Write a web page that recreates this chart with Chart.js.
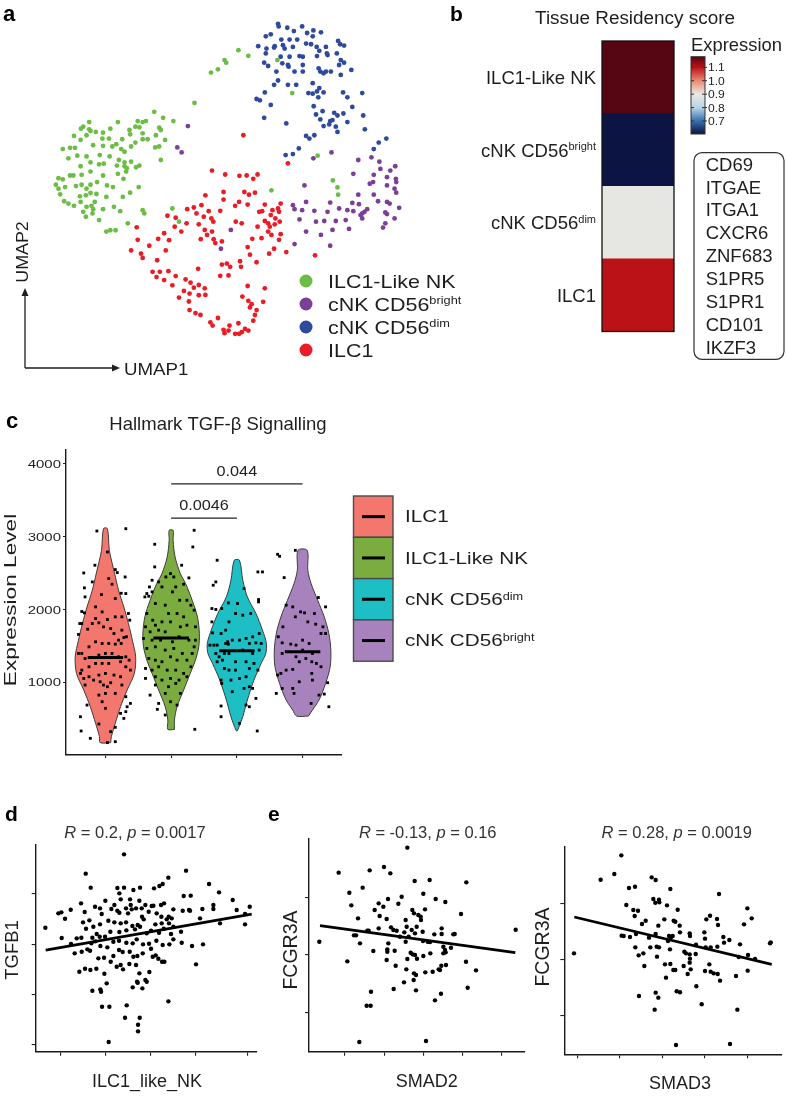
<!DOCTYPE html>
<html>
<head>
<meta charset="utf-8">
<title>ILC1 / NK figure</title>
<script src="https://cdn.jsdelivr.net/npm/chart.js@4.4.1/dist/chart.umd.min.js"></script>
<style>
  html, body { margin: 0; padding: 0; background: #fff; }
  #figure { position: relative; width: 787px; height: 1096px; overflow: hidden; background: #fff; }
  #figure canvas { position: absolute; left: 0; top: 0; }
</style>
</head>
<body>
<div id="figure">
  <canvas id="umap" width="787" height="1096"></canvas>
  <canvas id="heat" width="787" height="1096"></canvas>
  <canvas id="violin" width="787" height="1096"></canvas>
  <canvas id="corrD" width="787" height="1096"></canvas>
  <canvas id="corrE1" width="787" height="1096"></canvas>
  <canvas id="corrE2" width="787" height="1096"></canvas>
</div>
<script>
"use strict"

// Chart.js v4 - one page sized canvas per panel, layout padding places the plot area


// ---------- panel a : UMAP ----------
const umapGroups = ["ILC1-Like NK", "cNK CD56", "cNK CD56", "ILC1"];
const umapSups = ["", "bright", "dim", ""];
const umapColors = ["#6bbd45", "#7c3f98", "#2d4a9d", "#ea1c25"];

const umapGreen = [
    [7.10,10.60],[7.40,10.43],[6.68,10.30],[6.73,10.22],[6.48,10.02],[6.27,9.92],[8.28,10.30],[8.73,9.30],[5.77,9.00],
    [9.50,7.40],[9.96,6.65],[10.10,6.44],[10.12,6.22],[8.10,6.35],[5.10,5.80],[5.30,5.40],[4.55,8.73],[4.82,8.55],[5.13,8.45],
    [2.58,8.42],[2.40,8.28],[2.33,8.22],[2.58,8.20],[2.62,8.15],[2.78,8.12],[3.00,8.10],[3.22,8.22],[3.45,8.42],[3.80,8.18],
    [4.05,8.45],[4.20,8.42],[4.30,8.45],[3.98,8.28],[4.10,8.26],[4.70,8.25],[4.75,8.18],[2.12,8.00],[2.50,8.02],[2.98,7.92],
    [3.18,7.92],[3.40,7.75],[3.58,7.90],[3.82,8.05],[4.20,8.08],[4.60,8.02],[4.88,7.88],[4.20,7.90],[4.35,7.90],[2.32,7.88],
    [2.70,7.72],[3.00,7.70],[3.28,7.68],[3.55,7.60],[3.65,7.52],[3.85,7.68],[3.98,7.80],[4.58,7.65],[4.70,7.68],[1.78,7.60],
    [2.00,7.64],[2.15,7.64],[2.22,7.40],[1.95,7.32],[2.50,7.38],[2.90,7.42],[3.20,7.38],[3.48,7.27],[3.65,7.20],[3.85,7.22],
    [4.75,7.27],[2.32,7.08],[2.62,7.20],[2.88,7.14],[3.02,7.16],[3.42,7.10],[3.65,7.08],[3.72,7.02],[4.00,7.05],[4.10,7.10],
    [1.57,6.52],[1.65,6.72],[1.78,6.68],[2.00,6.80],[2.10,6.80],[2.35,6.82],[2.62,6.92],[3.00,6.80],[3.45,6.85],[3.70,6.92],
    [1.65,6.40],[1.70,6.23],[1.85,6.45],[2.18,6.48],[2.35,6.52],[2.50,6.40],[2.62,6.52],[2.82,6.60],[3.12,6.50],[3.30,6.45],
    [3.62,6.70],[4.08,6.45],[1.82,6.02],[1.95,5.95],[2.12,5.88],[2.30,6.17],[2.48,6.20],[2.62,6.27],[2.80,6.24],[3.10,6.15],
    [3.60,6.15],[3.82,6.28],[2.32,6.00],[2.50,5.85],[2.65,5.88],[2.70,5.78],[2.75,6.00],[3.00,5.78],[3.33,5.85],[3.52,5.72],
    [2.40,5.70],[2.48,5.55],[2.68,5.65],[2.88,5.45],[4.20,5.75],[4.25,5.65],[3.75,5.35],[3.10,5.10],[3.22,5.14],[3.38,5.14]
];
const umapPurple = [
    [5.57,8.30],[5.25,7.65],[5.38,7.50],[9.37,7.32],[9.92,7.50],[10.73,7.27],[11.13,7.35],[11.37,7.22],[11.85,7.08],[11.40,7.00],
    [11.70,6.95],[10.58,6.85],[11.20,6.82],[11.60,6.75],[11.87,6.70],[11.88,6.60],[9.10,6.50],[11.08,6.55],[11.18,6.60],[11.60,6.50],
    [11.83,6.40],[11.88,6.28],[10.73,6.22],[11.20,6.22],[11.33,6.02],[11.60,6.00],[11.68,5.95],[11.97,5.82],[9.15,6.00],[9.88,5.98],
    [10.55,5.97],[10.75,5.93],[8.75,5.90],[8.80,5.78],[9.03,5.75],[9.40,5.73],[9.80,5.70],[10.15,5.80],[10.40,5.75],[10.58,5.72],
    [10.85,5.65],[10.80,5.60],[10.92,5.70],[11.00,5.78],[11.55,5.68],[11.60,5.63],[11.83,5.50],[8.95,5.47],[9.45,5.40],[9.70,5.42],
    [10.05,5.42],[10.35,5.45],[10.85,5.50],[11.48,5.22],[11.55,5.35],[9.15,5.10],[9.60,5.00],[9.95,5.15],[10.45,5.18],[8.80,4.72],
    [9.88,4.67],[6.87,5.15],[6.57,4.58]
];
const umapBlue = [
    [8.30,11.40],[8.32,11.32],[8.58,11.28],[8.78,11.18],[9.03,11.32],[9.18,11.12],[9.37,11.20],[9.60,11.14],[9.35,11.02],[7.93,11.02],
    [8.08,11.08],[8.40,10.92],[8.65,10.92],[8.88,10.92],[9.15,10.80],[8.45,10.75],[8.20,10.72],[8.18,10.68],[7.70,10.72],[7.95,10.65],
    [8.50,10.65],[8.75,10.70],[9.30,10.78],[9.47,10.70],[9.75,10.70],[9.80,10.45],[10.12,10.88],[10.30,10.74],[10.18,10.78],[10.08,10.50],
    [10.20,10.30],[10.30,10.22],[10.15,10.15],[10.20,9.85],[9.78,10.50],[9.55,10.58],[9.48,10.42],[9.05,10.40],[8.95,10.42],[8.65,10.40],
    [8.60,10.15],[8.38,10.40],[7.93,10.50],[7.88,10.22],[8.00,10.12],[8.43,10.20],[8.25,9.95],[8.62,10.10],[8.80,9.95],[9.05,10.15],
    [9.05,9.95],[9.53,10.05],[9.58,9.95],[9.68,9.90],[9.75,9.95],[9.90,9.95],[10.52,10.00],[8.30,9.68],[8.18,9.55],[8.60,9.55],
    [8.85,9.55],[9.35,9.60],[9.55,9.45],[9.22,9.30],[9.35,9.28],[9.48,9.35],[9.68,9.32],[9.52,9.17],[10.27,9.32],[10.40,9.17],
    [10.85,9.30],[7.90,9.32],[7.65,9.12],[7.75,9.08],[8.08,8.94],[9.38,8.90],[9.65,8.75],[10.00,8.70],[10.10,8.62],[10.28,8.68],
    [10.55,8.88],[10.88,8.62],[9.45,8.65],[9.58,8.50],[9.88,8.45],[9.95,8.48],[9.68,8.30],[9.85,8.35],[10.05,8.28],[10.40,8.42],
    [10.10,8.12],[10.93,8.20],[8.55,8.38],[7.88,8.55],[9.15,8.00],[9.25,7.92],[9.40,8.02],[8.93,7.62],[8.75,7.45],[8.53,7.42],
    [11.35,7.80],[11.58,7.92],[11.20,7.60]
];
const umapRed = [
    [7.25,8.02],[8.60,7.17],[6.30,6.95],[6.70,6.83],[7.13,6.79],[7.35,6.80],[7.68,6.83],[7.55,6.70],[6.10,6.20],[6.65,6.30],
    [7.28,6.30],[7.42,6.22],[7.60,6.28],[6.65,6.07],[7.12,6.00],[7.38,5.92],[7.90,5.92],[8.38,5.95],[8.30,5.80],[5.75,5.83],
    [5.98,5.90],[5.55,5.78],[5.83,5.65],[6.20,5.72],[6.55,5.73],[7.00,5.88],[7.73,5.70],[7.82,5.72],[8.13,5.75],[8.33,5.70],
    [8.08,5.60],[8.22,5.50],[4.95,5.58],[5.20,5.52],[5.53,5.35],[6.05,5.55],[6.28,5.50],[6.34,5.40],[7.02,5.40],[7.20,5.35],
    [7.90,5.42],[8.00,5.35],[8.35,5.40],[5.17,5.25],[5.37,5.10],[5.90,5.32],[6.08,5.15],[6.30,5.10],[6.15,5.00],[7.68,5.25],
    [8.05,5.25],[8.20,5.32],[8.00,5.10],[8.10,5.00],[8.38,5.02],[4.02,5.23],[4.85,5.05],[4.67,4.88],[4.05,4.85],[5.00,4.84],
    [5.96,4.87],[6.35,4.87],[6.40,4.75],[6.60,4.80],[7.52,4.88],[7.80,4.90],[8.33,4.85],[4.40,4.67],[3.85,4.53],[4.15,4.43],
    [4.20,4.30],[4.90,4.53],[7.38,4.63],[8.18,4.58],[8.03,4.43],[8.55,4.48],[4.64,4.23],[7.45,4.40],[6.60,4.10],[6.75,4.13],
    [7.15,4.20],[7.18,4.03],[6.85,4.03],[9.42,4.38],[4.50,3.88],[4.72,3.88],[4.98,3.90],[4.62,3.72],[5.20,3.75],[5.88,3.97],
    [6.55,3.76],[6.80,3.77],[7.65,4.17],[4.85,3.63],[5.50,3.65],[5.90,3.48],[5.65,3.55],[5.75,3.40],[5.10,3.47],[6.08,3.38],
    [7.38,3.45],[7.90,3.38],[5.45,3.30],[5.30,3.10],[5.62,3.22],[5.90,3.17],[6.10,3.18],[7.22,3.13],[7.40,3.00],[7.50,2.90],
    [7.45,2.80],[7.85,2.97],[5.60,2.98],[5.62,2.72],[5.80,2.63],[5.95,2.57],[7.65,2.72],[7.60,2.57],[7.55,2.40],[6.48,2.48],
    [6.25,2.35],[6.32,2.25],[6.83,2.25],[7.10,2.32],[6.65,2.12],[6.80,2.10],[7.00,2.00],[7.20,2.05],[7.30,2.15],[7.40,2.10],
    [6.68,2.02],[7.12,2.00]
];


// ---------- panel b : tissue residency heatmap ----------
const heatRows = ["ILC1-Like NK", "cNK CD56", "cNK CD56", "ILC1"];
const heatSups = ["", "bright", "dim", ""];
const heatValues = [1.18, 0.60, 0.89, 1.10];
const colorbarTicks = [0.7, 0.8, 0.9, 1.0, 1.1];
const colorbarRange = [0.603, 1.179];
const heatStops = [
    [0.603, "#0b1443"], [0.70, "#3670ae"], [0.80, "#b6d5e7"], [0.90, "#ebe8e3"],
    [1.00, "#ea8b72"], [1.10, "#bb1218"], [1.179, "#560512"]
];
const residencyGenes = ["CD69", "ITGAE", "ITGA1", "CXCR6", "ZNF683", "S1PR5", "S1PR1", "CD101", "IKZF3"];


// ---------- panel c : TGF-beta violins ----------
const violinGroups = ["ILC1", "ILC1-Like NK", "cNK CD56", "cNK CD56"];
const violinSups = ["", "", "dim", "bright"];
const violinColors = ["#f3776d", "#7bac3f", "#1dbec4", "#a882bd"];
// outline of each violin: expression levels and half widths (category units)
const violinLevels = [
    [170, 252, 435, 663, 892, 1120, 1349, 1577, 1806, 2034, 2263, 2492, 2812, 3110],
    [352, 480, 663, 892, 1120, 1303, 1486, 1669, 1897, 2126, 2355, 2492, 2720, 2949, 3086],
    [334, 526, 755, 1029, 1258, 1395, 1532, 1715, 1944, 2172, 2401, 2675],
    [535, 617, 755, 983, 1212, 1440, 1669, 1897, 2126, 2355, 2538, 2812]
];
const violinWidths = [
    [0.08, 0.09, 0.15, 0.23, 0.33, 0.44, 0.46, 0.41, 0.35, 0.28, 0.20, 0.14, 0.06, 0.03],
    [0.05, 0.05, 0.09, 0.19, 0.29, 0.37, 0.42, 0.43, 0.40, 0.32, 0.22, 0.14, 0.06, 0.03, 0.03],
    [0.01, 0.09, 0.16, 0.26, 0.37, 0.44, 0.45, 0.39, 0.29, 0.16, 0.09, 0.04],
    [0.09, 0.15, 0.25, 0.35, 0.42, 0.43, 0.40, 0.33, 0.23, 0.13, 0.08, 0.07]
];
const violinMedians = [1340, 1609, 1431, 1417];
// single cells: [jitter offset, expression]
const ilc1Cells = [
    [-0.13,3077],[0.31,3109],[0.03,2789],[-0.16,2607],[-0.33,2501],[0.15,2547],[0.18,2506],[0.05,2424],[0.30,2446],[0.10,2346],
    [-0.32,2296],[-0.20,2378],[-0.06,2204],[0.24,2222],[0.31,2218],[-0.31,2172],[0.15,2149],[-0.15,2035],[-0.05,1966],[-0.36,1971],
    [-0.32,1953],[0.35,1944],[0.37,1852],[-0.39,1806],[-0.36,1806],[-0.27,1729],[-0.10,1816],[0.03,1861],[0.15,1898],[0.25,1898],
    [-0.20,1806],[-0.15,1875],[-0.03,1761],[0.08,1738],[0.25,1715],[-0.41,1656],[0.13,1669],[0.20,1578],[0.28,1614],[0.32,1624],
    [0.24,1532],[0.15,1523],[-0.15,1555],[-0.05,1532],[0.05,1532],[-0.25,1486],[-0.36,1395],[-0.41,1395],[-0.31,1326],[-0.10,1372],
    [0,1395],[0.10,1395],[0.20,1349],[0.31,1349],[0.36,1303],[-0.36,1166],[-0.25,1212],[-0.15,1258],[-0.05,1258],[0.05,1258],
    [0.23,1281],[0.31,1212],[0.38,1166],[-0.38,1121],[-0.33,1052],[-0.25,1075],[-0.10,1098],[0,1121],[0.13,1098],[0.23,1075],
    [-0.18,1029],[-0.08,1006],[-0.03,961],[0.03,938],[-0.31,961],[0.08,993],[0.25,961],[-0.10,823],[0,846],[0.15,846],
    [0.31,801],[-0.05,732],[-0.28,686],[0,641],[0.38,709],[0.33,663],[0.31,595],[0.23,572],[0.28,503],[-0.38,526],
    [-0.10,426],[0.15,380],[-0.37,330],[-0.23,229],[0.08,321],[0.03,170],[0.15,183]
];
const ilc1LikeCells = [
    [0.35,3087],[-0.25,2895],[0.33,2858],[-0.25,2584],[0.16,2607],[-0.01,2492],[0.04,2446],[-0.08,2446],[0.27,2433],[-0.29,2401],
    [-0.19,2378],[-0.14,2309],[0.07,2309],[-0.33,2309],[-0.37,2218],[-0.40,2172],[-0.34,2181],[-0.29,2241],[0.02,2241],[0.19,2346],
    [-0.24,2081],[-0.09,2058],[0.13,2126],[0.24,2126],[0.30,2058],[-0.37,1944],[-0.28,1852],[-0.04,1944],[0.09,1944],[0.19,1898],
    [0.35,1989],[-0.24,1783],[-0.14,1829],[-0.01,1829],[-0.39,1761],[-0.32,1692],[-0.19,1715],[-0.09,1692],[0.14,1761],[0.24,1783],
    [0.37,1761],[-0.29,1578],[-0.42,1601],[-0.16,1578],[0.02,1555],[0.12,1624],[0.27,1578],[0.37,1578],[0.35,1486],[-0.37,1464],
    [-0.24,1486],[-0.09,1441],[0.04,1464],[0.17,1395],[0.32,1395],[-0.34,1326],[-0.24,1303],[-0.14,1281],[-0.01,1349],[0.09,1303],
    [0.24,1303],[-0.39,1189],[-0.29,1166],[-0.19,1212],[-0.06,1166],[0.07,1166],[0.19,1121],[0.30,1212],[-0.39,1052],[-0.24,1075],
    [-0.14,1029],[-0.01,1052],[0.12,1029],[0.24,1075],[-0.24,961],[-0.04,938],[0.07,983],[-0.32,823],[-0.09,846],[0.14,846],
    [-0.19,709],[-0.01,732],[0.09,686],[-0.21,627],[-0.09,549],[0.36,353]
];
const cd56dimCells = [
    [-0.30,2675],[-0.32,2378],[-0.36,2332],[0.32,2515],[0.39,2515],[0.11,2286],[-0.13,2090],[0.01,2081],[0.33,2136],[0.33,2104],
    [-0.38,2012],[-0.32,1999],[-0.23,2012],[-0.02,1944],[0.09,1921],[0.21,1944],[-0.38,1829],[-0.12,1829],[-0.37,1678],[-0.24,1669],
    [-0.17,1715],[-0.17,1532],[-0.14,1555],[-0.13,1523],[-0.07,1578],[0.04,1578],[0.14,1601],[0.24,1624],[0.34,1669],[-0.41,1509],
    [-0.35,1509],[-0.30,1509],[0.19,1532],[0.29,1541],[0.37,1532],[-0.32,1395],[-0.27,1349],[-0.19,1395],[-0.12,1395],[0.09,1441],
    [0.24,1395],[0.34,1441],[-0.30,1281],[-0.22,1303],[-0.02,1281],[0.14,1281],[0.26,1258],[-0.19,1189],[-0.12,1166],[-0.02,1166],
    [0.19,1189],[0.32,1166],[-0.24,1029],[-0.23,983],[-0.09,1029],[0.04,1052],[0.14,1075],[0.19,938],[0.11,915],[0.24,915],
    [-0.07,869],[0.29,778],[-0.24,673],[0.14,686],[0.19,663],[-0.24,526],[0.31,330],[0.04,435]
];
const cd56brightCells = [
    [-0.38,2757],[-0.35,2730],[-0.11,2812],[-0.28,2437],[-0.15,2035],[-0.11,1898],[-0.03,1966],[0.03,1953],[-0.25,2058],[0.18,1944],
    [0.24,2163],[0.35,2035],[0.08,1829],[0.20,1797],[0.31,1761],[0.28,1669],[0.35,1669],[-0.30,1761],[-0.37,1624],[-0.31,1541],
    [-0.18,1523],[-0.10,1509],[0,1441],[0.10,1532],[-0.31,1395],[-0.10,1349],[0.05,1326],[0.15,1395],[-0.38,1098],[-0.33,1121],
    [-0.25,1166],[-0.15,1176],[-0.05,1281],[0.14,1281],[0.21,1258],[0.28,1212],[0.14,1121],[0.15,1029],[0.38,993],[-0.31,915],
    [-0.15,915],[-0.05,1006],[0.25,823],[0.33,837],[-0.40,846],[-0.13,846],[0.13,709],[0.40,663],[0,1578]
];
const violinCells = [ilc1Cells, ilc1LikeCells, cd56dimCells, cd56brightCells];
const violinYTicks = [1000, 2000, 3000, 4000];
const sigPairs = [[1, 2], [1, 3]];
const sigHeights = [3255, 3725];
const sigLabels = ["0.0046", "0.044"];


// ---------- panels d, e : correlations ----------
const ilc1LikeVsTgfb1 = [
    [3.72,6.17],[2.57,5.59],[5.58,5.68],[2.72,5.17],[3.52,5.16],[3.72,5.17],[4.00,5.10],[4.20,5.17],[4.62,5.15],[4.78,5.22],
    [4.88,5.28],[5.05,5.47],[6.27,5.28],[6.57,5.03],[5.51,4.92],[5.72,4.93],[2.43,4.70],[3.16,4.78],[3.58,5.00],[3.62,4.82],
    [3.90,4.82],[4.18,4.78],[4.36,4.65],[4.55,4.62],[4.60,4.63],[4.83,4.65],[4.92,4.70],[5.20,4.52],[5.48,4.48],[5.67,4.50],
    [6.07,4.53],[6.40,4.53],[6.60,4.10],[7.35,4.38],[7.49,4.60],[7.35,4.07],[1.84,4.43],[2.12,4.51],[1.95,4.24],[2.54,4.44],
    [2.49,4.13],[2.68,4.19],[2.85,4.60],[3.00,4.55],[3.05,4.38],[3.34,4.53],[3.43,4.65],[3.52,4.48],[3.58,4.42],[3.78,4.55],
    [3.84,4.40],[3.95,4.52],[4.08,4.55],[4.26,4.30],[4.46,4.45],[4.70,4.40],[4.84,4.30],[5.00,4.22],[5.06,4.30],[5.15,4.25],
    [5.07,4.10],[4.85,4.10],[4.66,4.07],[4.31,4.22],[4.13,4.05],[3.97,4.02],[3.78,4.13],[3.62,4.10],[3.43,4.13],[3.25,4.18],
    [3.00,4.07],[2.80,4.00],[2.58,3.94],[2.44,3.67],[2.77,3.67],[2.90,3.78],[2.99,3.70],[3.15,3.70],[3.31,3.85],[3.58,3.84],
    [3.79,3.89],[4.05,3.92],[4.20,4.00],[4.40,3.80],[4.53,3.88],[4.77,3.82],[4.91,3.94],[5.13,3.78],[5.43,3.85],[1.36,3.97],
    [1.85,3.66],[2.13,3.48],[2.24,3.20],[2.45,3.25],[2.62,3.32],[2.74,3.50],[2.86,3.56],[3.01,3.42],[3.22,3.38],[3.40,3.55],
    [3.57,3.58],[3.79,3.52],[3.98,3.50],[4.10,3.62],[4.29,3.47],[4.47,3.49],[4.69,3.58],[4.88,3.45],[5.08,3.47],[5.20,3.62],
    [5.45,3.52],[5.76,3.42],[6.09,3.47],[5.88,2.87],[2.55,2.74],[2.38,2.65],[2.71,2.70],[2.89,2.74],[3.13,2.59],[3.20,2.30],
    [3.40,3.12],[3.57,3.30],[3.68,3.24],[3.89,3.25],[4.00,3.10],[4.12,3.12],[4.28,3.20],[4.58,3.10],[4.67,3.14],[4.75,3.04],
    [4.86,2.95],[4.93,2.95],[3.62,2.85],[3.69,2.72],[3.88,2.88],[4.08,2.85],[4.18,2.60],[4.36,2.40],[4.40,2.35],[4.48,2.64],
    [3.98,2.18],[4.11,2.35],[4.27,2.15],[4.13,2.32],[2.77,2.08],[3.01,2.12],[3.03,2.05],[3.06,1.60],[3.28,1.60],[3.80,1.64],
    [3.75,1.27],[4.19,1.27],[4.14,1.06],[4.14,0.86],[5.05,1.76],[3.26,0.54],[3.32,2.95],[2.95,3.05],[3.12,3.07],[2.70,3.28],
    [3.50,2.80],[4.53,3.34],[5.20,4.00],[6.00,4.25],[6.40,4.65],[6.98,4.80],[7.10,4.50],[5.70,4.48],[4.25,4.55],[3.92,4.65],
    [2.30,3.65],[1.75,4.40]
];
const smad2VsFcgr3a = [
    [3.52,6.37],[1.46,5.62],[2.39,5.69],[2.82,5.79],[3.01,5.60],[1.78,5.02],[2.18,5.17],[1.84,4.64],[2.04,4.25],[2.66,4.70],
    [2.80,4.60],[2.94,4.83],[3.25,4.69],[3.35,4.90],[3.74,5.37],[4.19,5.40],[4.00,4.99],[4.37,4.83],[4.66,4.74],[5.29,5.33],
    [5.13,4.38],[2.54,4.50],[2.69,4.32],[2.90,4.23],[3.03,3.98],[3.10,3.90],[2.66,3.95],[2.36,3.88],[3.67,4.50],[3.72,4.40],
    [3.85,4.35],[3.92,4.30],[4.05,4.52],[3.93,4.20],[3.47,4.20],[3.50,4.00],[3.80,4.00],[3.65,3.90],[3.43,3.83],[3.75,3.80],
    [3.98,3.85],[3.20,3.88],[3.30,3.70],[3.56,3.70],[3.47,3.55],[2.95,3.50],[2.92,3.32],[2.92,3.25],[3.14,3.28],[2.50,3.27],
    [2.10,3.50],[1.92,3.74],[1.98,3.74],[0.88,3.55],[1.72,2.96],[2.32,3.88],[2.90,3.00],[3.17,2.83],[3.42,2.33],[3.11,2.13],
    [3.49,2.72],[3.62,3.22],[3.68,3.17],[3.78,2.55],[3.72,2.60],[3.78,2.09],[4.00,3.12],[4.06,2.63],[4.21,3.20],[4.28,2.65],
    [4.55,3.95],[4.55,3.78],[4.33,3.77],[4.13,3.55],[4.20,3.54],[3.99,3.57],[4.60,3.40],[4.65,3.30],[4.60,3.20],[4.67,3.23],
    [4.83,3.37],[4.90,3.77],[4.94,3.78],[4.50,2.70],[4.54,2.83],[4.68,2.85],[4.46,2.72],[4.53,1.99],[4.35,1.79],[5.28,2.95],
    [5.58,2.69],[5.33,2.17],[6.77,3.91],[2.43,2.05],[2.30,1.63],[2.42,1.63],[2.08,0.54],[4.08,0.57],[3.75,3.15],[3.81,3.04],
    [3.71,2.40],[3.52,3.03]
];
const smad3VsFcgr3a = [
    [9.94,6.14],[9.32,5.41],[9.73,5.58],[10.17,5.16],[10.35,5.20],[10.85,5.48],[10.97,5.40],[11.41,5.13],[12.87,4.98],[10.09,4.65],
    [10.30,4.50],[10.44,4.48],[10.90,4.83],[11.07,4.81],[11.08,4.73],[11.31,4.64],[11.63,4.51],[10.34,4.32],[10.56,4.08],[10.67,4.18],
    [10.96,4.72],[11.23,4.22],[11.51,4.18],[11.56,4.15],[11.69,4.03],[11.05,4.03],[10.77,3.67],[9.95,3.73],[10.01,3.72],[10.20,3.69],
    [10.38,3.78],[10.97,3.78],[11.37,3.72],[11.43,3.68],[11.48,3.72],[11.70,3.83],[11.99,3.80],[12.00,3.72],[12.43,3.83],[12.49,4.22],
    [12.60,4.33],[12.81,4.23],[12.84,4.05],[12.45,3.64],[12.62,3.38],[12.82,3.40],[13.00,3.69],[13.02,3.52],[13.18,3.60],[13.50,3.47],
    [13.62,4.07],[13.72,4.55],[13.85,4.25],[11.34,3.57],[11.40,3.32],[10.36,3.38],[10.46,3.14],[10.60,3.20],[10.81,3.38],[11.07,3.38],
    [11.01,3.10],[10.63,2.82],[11.25,2.87],[11.41,2.88],[11.50,2.70],[11.56,2.70],[11.83,3.25],[11.99,3.17],[12.00,3.04],[11.99,2.92],
    [11.81,2.82],[11.93,2.58],[12.02,2.72],[12.17,3.18],[12.18,3.46],[12.45,2.67],[12.58,2.87],[12.62,2.65],[12.71,2.60],[12.83,2.58],
    [12.90,2.38],[12.47,3.38],[12.19,2.21],[11.60,2.06],[11.70,2.03],[11.28,2.47],[10.47,1.92],[10.97,2.02],[11.05,1.87],[10.94,1.51],
    [12.35,1.67],[13.42,1.51],[13.38,2.52],[13.46,3.09],[13.74,3.15],[13.95,3.03],[13.73,2.68],[14.40,3.50],[14.42,3.53],[8.52,3.20],
    [11.58,0.45],[13.20,0.48],[11.00,3.40],[11.88,3.20]
];
// fitted regression lines, read at their two ends
const fitD = [[1.37, 3.30], [7.55, 4.38]];
const fitE1 = [[0.90, 4.03], [6.76, 3.22]];
const fitE2 = [[8.53, 4.29], [14.45, 2.87]];
const corrStats = [["0.2", "0.0017"], ["-0.13", "0.16"], ["0.28", "0.0019"]];
// axis ranges and tick values
const rangeD = {x: [1.07, 7.70], y: [0.25, 6.45]};
const ticksD = {x: [1.83, 3.17, 4.52, 5.87, 7.42], y: [0.45, 1.95, 3.47, 5.00]};
const rangeE1 = {x: [0.57, 7.05], y: [0.25, 6.63]};
const ticksE1 = {x: [1.65, 2.85, 4.00, 5.18, 6.36], y: [1.43, 3.15, 4.87]};
const rangeE2 = {x: [8.23, 14.75], y: [0.17, 6.40]};
const ticksE2 = {x: [8.62, 9.90, 11.18, 12.45, 13.72], y: [1.32, 3.02, 4.70]};


// ---------- helpers ----------
const W = 787, H = 1096;
const FONT = "'Liberation Sans', Arial, Helvetica, sans-serif";
const INK = "#1e1e1e";

Chart.defaults.font.family = FONT;

function fontOf(p) {
    return `${p.italic ? "italic " : ""}${p.bold ? "bold " : ""}${p.size}px ${FONT}`;
}

// text runs with optional rotation and horizontal stretch (the figure is stretched)
function rich(ctx, parts, x, y, o) {
    o = o || {};
    ctx.save();
    ctx.translate(x, y);
    if (o.rot) ctx.rotate(o.rot);
    ctx.scale(o.sx || 1, 1);
    ctx.fillStyle = o.color || INK;
    ctx.textBaseline = "alphabetic";
    ctx.textAlign = "left";
    let w = 0;
    parts.forEach(p => { ctx.font = fontOf(p); w += ctx.measureText(p.t).width; });
    let cx = o.align === "right" ? -w : (o.align === "center" ? -w / 2 : 0);
    parts.forEach(p => {
        ctx.font = fontOf(p);
        ctx.fillText(p.t, cx, p.dy || 0);
        cx += ctx.measureText(p.t).width;
    });
    ctx.restore();
}

function text(ctx, t, x, y, size, o) {
    o = o || {};
    rich(ctx, [{t: t, size: size, bold: o.bold, italic: o.italic}], x, y, o);
}

function withSup(main, sup, size) {
    const parts = [{t: main, size: size}];
    if (sup) parts.push({t: sup, size: Math.round(size * 0.6), dy: -size * 0.34});
    return parts;
}

function statParts(r, p, size) {
    return [
        {t: "R", size: size, italic: true}, {t: " = " + r + ", ", size: size},
        {t: "p", size: size, italic: true}, {t: " = " + p, size: size}
    ];
}

function hexRgb(h) {
    return [1, 3, 5].map(i => parseInt(h.substr(i, 2), 16));
}

function colorFor(v) {
    if (v <= heatStops[0][0]) return heatStops[0][1];
    for (let i = 1; i < heatStops.length; i++) {
        if (v <= heatStops[i][0]) {
            const a = heatStops[i - 1], b = heatStops[i];
            const t = (v - a[0]) / (b[0] - a[0]);
            const ca = hexRgb(a[1]), cb = hexRgb(b[1]);
            const c = ca.map((k, j) => Math.round(k + (cb[j] - k) * t));
            return `rgb(${c[0]},${c[1]},${c[2]})`;
        }
    }
    return heatStops[heatStops.length - 1][1];
}

const toXY = p => ({x: p[0], y: p[1]});

// plot area given in page pixels: [left, top, right, bottom]
function baseOptions(area, tick, scales) {
    return {
        responsive: false,
        animation: false,
        events: [],
        layout: {padding: {left: area[0] - tick, top: area[1], right: W - area[2], bottom: H - area[3] - tick}},
        scales: scales,
        plugins: {legend: {display: false}, tooltip: {enabled: false}}
    };
}

function axis(range, ticks, tick) {
    return {
        type: "linear",
        min: range[0],
        max: range[1],
        afterBuildTicks: a => { a.ticks = ticks.map(v => ({value: v})); },
        grid: {display: true, drawOnChartArea: false, drawTicks: true, tickLength: tick, color: "#222", lineWidth: 1.1},
        border: {display: true, color: "#1a1a1a", width: 1.4},
        ticks: {display: false}
    };
}


// ---------- panel a ----------
new Chart(document.querySelector("#umap"), {
    type: "scatter",
    data: {
        datasets: [umapGreen, umapPurple, umapBlue, umapRed].map((pts, i) => ({
            data: pts.map(toXY),
            backgroundColor: umapColors[i],
            borderWidth: 0,
            pointRadius: 2.4
        }))
    },
    options: baseOptions([0, 0, 420, 380], 0, {
        x: {type: "linear", display: false, min: 0, max: 12.6},
        y: {type: "linear", display: false, min: 0.6, max: 12}
    }),
    plugins: [{
        id: "umapDecor",
        afterDraw(chart) {
            const ctx = chart.ctx;
            text(ctx, "a", 3, 21, 22, {bold: true, color: "#000"});

            // axis arrows
            ctx.save();
            ctx.strokeStyle = INK;
            ctx.fillStyle = INK;
            ctx.lineWidth = 1.3;
            ctx.beginPath();
            ctx.moveTo(25, 368); ctx.lineTo(25, 294);
            ctx.moveTo(25, 368); ctx.lineTo(114, 368);
            ctx.stroke();
            ctx.beginPath();
            ctx.moveTo(25, 288); ctx.lineTo(21.5, 296); ctx.lineTo(28.5, 296); ctx.closePath(); ctx.fill();
            ctx.beginPath();
            ctx.moveTo(120, 368); ctx.lineTo(112, 364.5); ctx.lineTo(112, 371.5); ctx.closePath(); ctx.fill();
            ctx.restore();
            text(ctx, "UMAP1", 124, 375, 17, {sx: 1.1});
            text(ctx, "UMAP2", 28, 252, 17, {align: "center", rot: -Math.PI / 2, sx: 1.05});

            // legend
            umapGroups.forEach((g, i) => {
                const y = 281 + i * 23;
                ctx.save();
                ctx.fillStyle = umapColors[i];
                ctx.beginPath(); ctx.arc(306, y, 6.5, 0, Math.PI * 2); ctx.fill();
                ctx.restore();
                rich(ctx, withSup(g, umapSups[i], 18.5), 328, y + 6.6, {sx: 1.16});
            });
        }
    }]
});


// ---------- panel b ----------
new Chart(document.querySelector("#heat"), {
    type: "bar",
    data: {
        labels: heatRows.map((r, i) => r + heatSups[i]),
        datasets: [{
            data: heatValues.map(() => 1),
            backgroundColor: heatValues.map(colorFor),
            borderWidth: 0,
            barPercentage: 1,
            categoryPercentage: 1
        }]
    },
    options: Object.assign(baseOptions([602, 41, 674, 331.5], 0, {
        x: {type: "linear", display: false, min: 0, max: 1},
        y: {type: "category", display: false}
    }), {indexAxis: "y"}),
    plugins: [{
        id: "heatDecor",
        afterDraw(chart) {
            const ctx = chart.ctx, a = chart.chartArea, ys = chart.scales.y;
            ctx.save();
            ctx.strokeStyle = "#111";
            ctx.lineWidth = 1.3;
            ctx.strokeRect(a.left, a.top, a.right - a.left, a.bottom - a.top);
            ctx.restore();

            text(ctx, "b", 450, 20.5, 21, {bold: true, color: "#000"});
            text(ctx, "Tissue Residency score", 635, 24, 17.5, {align: "center", sx: 1.08});
            heatRows.forEach((r, i) => {
                rich(ctx, withSup(r, heatSups[i], 18.5), 596, ys.getPixelForValue(i) + 6.6, {align: "right"});
            });

            // colour bar
            text(ctx, "Expression", 691, 50.6, 18.4);
            const cbTop = 56.7, cbBottom = 134, cbL = 691, cbR = 705;
            const span = colorbarRange[1] - colorbarRange[0];
            const cbY = v => cbBottom - (v - colorbarRange[0]) / span * (cbBottom - cbTop);
            const grad = ctx.createLinearGradient(0, cbBottom, 0, cbTop);
            heatStops.forEach(s => grad.addColorStop(Math.min(1, Math.max(0, (s[0] - colorbarRange[0]) / span)), s[1]));
            ctx.save();
            ctx.fillStyle = grad;
            ctx.fillRect(cbL, cbTop, cbR - cbL, cbBottom - cbTop);
            ctx.strokeStyle = "#333";
            ctx.lineWidth = 1;
            ctx.strokeRect(cbL, cbTop, cbR - cbL, cbBottom - cbTop);
            colorbarTicks.forEach(v => {
                const y = cbY(v);
                ctx.beginPath();
                ctx.moveTo(cbL, y); ctx.lineTo(cbL + 3, y);
                ctx.moveTo(cbR - 3, y); ctx.lineTo(cbR + 2, y);
                ctx.stroke();
            });
            ctx.restore();
            colorbarTicks.forEach(v => text(ctx, v.toFixed(1), 708, cbY(v) + 4, 11, {sx: 1.1}));

            // gene list box
            ctx.save();
            ctx.beginPath();
            if (ctx.roundRect) ctx.roundRect(694, 152.7, 90, 206.6, 8);
            else ctx.rect(694, 152.7, 90, 206.6);
            ctx.strokeStyle = "#333";
            ctx.lineWidth = 1.2;
            ctx.stroke();
            ctx.restore();
            residencyGenes.forEach((g, k) => text(ctx, g, 705.7, 170.6 + k * 22.9, 18.5));
        }
    }]
});


// ---------- panel c ----------
function violinOutline(center, levels, widths) {
    const right = levels.map((v, k) => ({x: center + widths[k], y: v}));
    const left = levels.map((v, k) => ({x: center - widths[k], y: v})).reverse();
    const pts = right.concat(left);
    pts.push(pts[0]);
    return pts;
}

const violinSets = [];
violinGroups.forEach((g, i) => {
    violinSets.push({
        type: "line",
        data: violinOutline(i, violinLevels[i], violinWidths[i]),
        fill: "shape",
        backgroundColor: violinColors[i],
        borderColor: "#3c3c3c",
        borderWidth: 1,
        pointRadius: 0,
        tension: 0.3,
        order: 3
    });
    violinSets.push({
        type: "scatter",
        data: violinCells[i].map(c => ({x: i + c[0], y: c[1]})),
        backgroundColor: "#000",
        borderWidth: 0,
        pointStyle: "rect",
        pointRadius: 2,
        order: 2
    });
    violinSets.push({
        type: "line",
        data: [{x: i - 0.27, y: violinMedians[i]}, {x: i + 0.27, y: violinMedians[i]}],
        borderColor: "#000",
        borderWidth: 3,
        pointRadius: 0,
        order: 1
    });
});
sigPairs.forEach((p, k) => {
    violinSets.push({
        type: "line",
        data: [{x: p[0], y: sigHeights[k]}, {x: p[1], y: sigHeights[k]}],
        borderColor: "#222",
        borderWidth: 1.2,
        pointRadius: 0,
        order: 1
    });
});

new Chart(document.querySelector("#violin"), {
    type: "scatter",
    data: {datasets: violinSets},
    options: baseOptions([66, 450, 342, 755], 3, {
        x: axis([-0.6, 3.6], [0, 1, 2, 3], 3),
        y: axis([0, 4190], violinYTicks, 3)
    }),
    plugins: [{
        id: "violinDecor",
        afterDraw(chart) {
            const ctx = chart.ctx, xs = chart.scales.x, ys = chart.scales.y;
            text(ctx, "c", 6, 428, 22, {bold: true, color: "#000"});
            text(ctx, "Hallmark TGF-\u03b2 Signalling", 218, 430, 18.5, {align: "center"});
            violinYTicks.forEach(v => {
                text(ctx, String(v), 61, ys.getPixelForValue(v) + 4.2, 11.5, {align: "right", sx: 1.3});
            });
            text(ctx, "Expression Level", 16, 600, 16.3, {align: "center", rot: -Math.PI / 2, sx: 1.39});
            sigPairs.forEach((p, k) => {
                const x = xs.getPixelForValue((p[0] + p[1]) / 2);
                const y = ys.getPixelForValue(sigHeights[k]);
                text(ctx, sigLabels[k], x, y - 8, 14.5, {align: "center", sx: 1.12});
            });

            // legend
            violinGroups.forEach((g, i) => {
                const top = 496 + i * 41.3, mid = top + 20.65;
                ctx.save();
                ctx.fillStyle = violinColors[i];
                ctx.fillRect(353.5, top, 39.5, 41.3);
                ctx.strokeStyle = "#4a4a4a";
                ctx.lineWidth = 1.4;
                ctx.strokeRect(353.5, top, 39.5, 41.3);
                ctx.strokeStyle = "#000";
                ctx.lineWidth = 3;
                ctx.beginPath(); ctx.moveTo(362, mid); ctx.lineTo(385, mid); ctx.stroke();
                ctx.restore();
                rich(ctx, withSup(g, violinSups[i], 16.3), 405, mid + 5.8, {sx: 1.27});
            });
        }
    }]
});


// ---------- panels d, e ----------
function corrChart(id, pts, fit, area, range, ticks, decor) {
    return new Chart(document.querySelector(id), {
        type: "scatter",
        data: {
            datasets: [{
                type: "line",
                data: fit.map(toXY),
                borderColor: "#000",
                borderWidth: 2.8,
                pointRadius: 0,
                order: 1
            }, {
                data: pts.map(toXY),
                backgroundColor: "#000",
                borderWidth: 0,
                pointRadius: 2.2,
                order: 2
            }]
        },
        options: baseOptions(area, 4, {
            x: axis(range.x, ticks.x, 4),
            y: axis(range.y, ticks.y, 4)
        }),
        plugins: [{id: id.slice(1) + "Decor", afterDraw: decor}]
    });
}

corrChart("#corrD", ilc1LikeVsTgfb1, fitD, [35.7, 845, 256.7, 1051.7], rangeD, ticksD, chart => {
    const ctx = chart.ctx;
    text(ctx, "d", 5, 820.5, 21, {bold: true, color: "#000"});
    rich(ctx, statParts(corrStats[0][0], corrStats[0][1], 16.5), 135, 838, {align: "center", color: "#333"});
    text(ctx, "TGFB1", 18.3, 950, 18.5, {align: "center", rot: -Math.PI / 2});
    text(ctx, "ILC1_like_NK", 147, 1087.3, 18, {align: "center"});
});

corrChart("#corrE1", smad2VsFcgr3a, fitE1, [309, 839, 525, 1051.7], rangeE1, ticksE1, chart => {
    const ctx = chart.ctx;
    text(ctx, "e", 268, 820.5, 21, {bold: true, color: "#000"});
    rich(ctx, statParts(corrStats[1][0], corrStats[1][1], 16.5), 427.7, 838, {align: "center", color: "#333"});
    text(ctx, "FCGR3A", 296.5, 950, 19.5, {align: "center", rot: -Math.PI / 2});
    text(ctx, "SMAD2", 426.7, 1087.3, 18, {align: "center"});
});

corrChart("#corrE2", smad3VsFcgr3a, fitE2, [564.3, 846.7, 781.7, 1054.3], rangeE2, ticksE2, chart => {
    const ctx = chart.ctx;
    rich(ctx, statParts(corrStats[2][0], corrStats[2][1], 16.5), 676.7, 838, {align: "center", color: "#333"});
    text(ctx, "FCGR3A", 549, 947, 19.5, {align: "center", rot: -Math.PI / 2});
    text(ctx, "SMAD3", 680, 1089.3, 18, {align: "center"});
});
</script>
</body>
</html>
